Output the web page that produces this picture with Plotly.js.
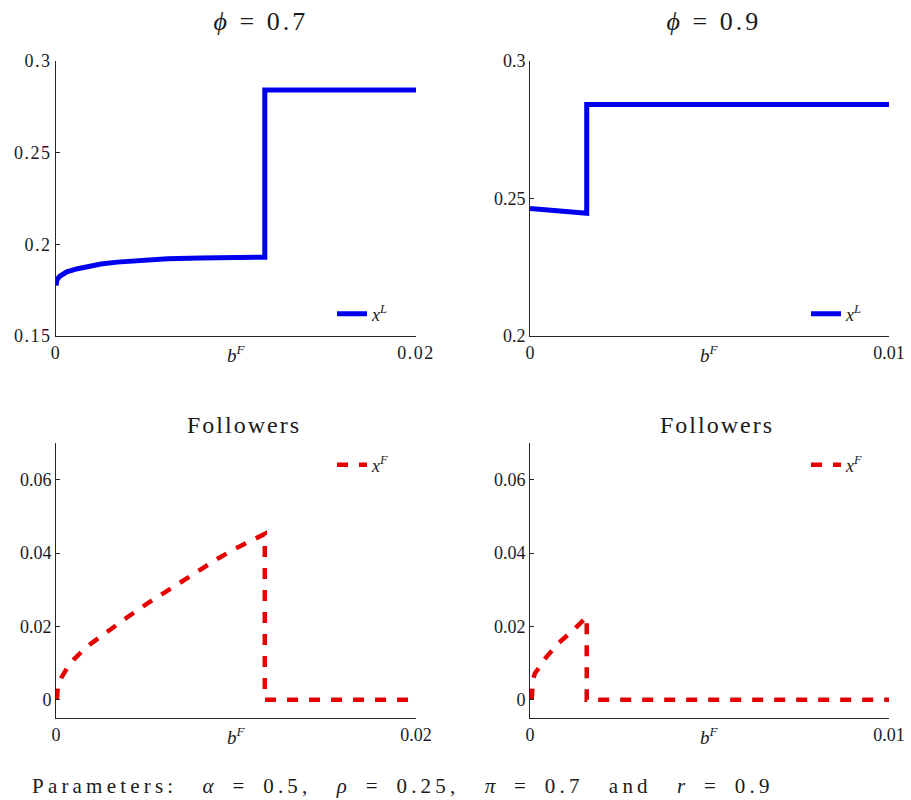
<!DOCTYPE html>
<html>
<head>
<meta charset="utf-8">
<script src="https://cdn.plot.ly/plotly-3.0.1.min.js"></script>
<style>
body { margin: 0; background: #fff; }
.xtick text, .ytick text { letter-spacing: 1.5px; }
.annotation[data-index="4"] text, .annotation[data-index="5"] text { letter-spacing: 3px; }
.annotation[data-index="6"] text, .annotation[data-index="7"] text { letter-spacing: 2px; }
.annotation[data-index="8"] text { letter-spacing: 4.2px; }
</style>
</head>
<body>
<div id="chart" style="width:911px;height:800px;"></div>
<script>
// ---- Data ----
// phi = 0.7, leader
const bF_leader_07 = [0, 0.00005, 0.0002, 0.0006, 0.0012, 0.0017, 0.0025, 0.0034, 0.0048, 0.0062, 0.008, 0.0098, 0.0116, 0.0116, 0.02];
const xL_07        = [0.1775, 0.1805, 0.1825, 0.185, 0.1867, 0.1878, 0.1893, 0.1903, 0.1913, 0.1921, 0.1926, 0.1929, 0.193, 0.2842, 0.2842];
// phi = 0.9, leader
const bF_leader_09 = [0, 0.00158, 0.00158, 0.01];
const xL_09        = [0.2464, 0.2446, 0.2842, 0.2842];
// phi = 0.7, followers
const bF_follow_07 = [0.00005, 0.0001, 0.0003, 0.0006, 0.001, 0.0015, 0.002, 0.003, 0.004, 0.005, 0.006, 0.007, 0.008, 0.009, 0.010, 0.011, 0.0116, 0.0116, 0.02];
const xF_07        = [0, 0.0035, 0.006, 0.0085, 0.011, 0.0135, 0.0155, 0.0192, 0.0226, 0.026, 0.0292, 0.0323, 0.0355, 0.0385, 0.0413, 0.0438, 0.0452, 0, 0];
// phi = 0.9, followers
const bF_follow_09 = [0.00005, 0.00008, 0.00014, 0.00046, 0.00079, 0.00121, 0.00158, 0.00158, 0.01];
const xF_09        = [0, 0.0055, 0.0072, 0.0117, 0.0154, 0.019, 0.0226, 0, 0];

// Tick labels
const xTicks07 = [0, 0.02],  xTickText07 = ['0', '0.02'];
const xTicks09 = [0, 0.01],  xTickText09 = ['0', '0.01'];
const yTicksL07 = [0.15, 0.2, 0.25, 0.3], yTickTextL07 = ['0.15', '0.2', '0.25', '0.3'];
const yTicksL09 = [0.2, 0.25, 0.3],       yTickTextL09 = ['0.2', '0.25', '0.3'];
const yTicksF = [0, 0.02, 0.04, 0.06],    yTickTextF = ['0', '0.02', '0.04', '0.06'];

const panelTitles = ['<i>ϕ</i> = 0.7', '<i>ϕ</i> = 0.9', 'Followers', 'Followers'];
const nameL = '<i>x</i><sup><i>L</i></sup>';
const nameF = '<i>x</i><sup><i>F</i></sup>';
const xLabel = '<i>b</i><sup><i>F</i></sup>';
const footer = 'Parameters:\u2003<i>α</i>\u2002=\u20020.5,\u2003<i>ρ</i>\u2002=\u20020.25,\u2003<i>π</i>\u2002=\u20020.7\u2003and\u2003<i>r</i>\u2002=\u20020.9';

// ---- Styling ----
const FONT = 'Liberation Serif, DejaVu Serif, serif';
const BLUE = '#0000ee';
const RED = '#e60000';
const AX = '#262626';
const W = 911, H = 800;

const traces = [
  {x: bF_leader_07, y: xL_07, xaxis: 'x', yaxis: 'y', name: nameL, legend: 'legend',
   mode: 'lines', line: {color: BLUE, width: 5}},
  {x: bF_leader_09, y: xL_09, xaxis: 'x2', yaxis: 'y2', name: nameL, legend: 'legend2',
   mode: 'lines', line: {color: BLUE, width: 5}},
  {x: bF_follow_07, y: xF_07, xaxis: 'x3', yaxis: 'y3', name: nameF, legend: 'legend3',
   mode: 'lines', line: {color: RED, width: 4.5, dash: '11px,11px'}},
  {x: bF_follow_09, y: xF_09, xaxis: 'x4', yaxis: 'y4', name: nameF, legend: 'legend4',
   mode: 'lines', line: {color: RED, width: 4.5, dash: '11px,11px'}}
];

const xL = [56 / W, 416 / W], xR = [530 / W, 889 / W];
const yT = [1 - 336 / H, 1 - 61 / H], yB = [1 - 718 / H, 1 - 443 / H];

function ax(domain, range, tv, tt, anchor) {
  return {domain: domain, range: range, tickvals: tv, ticktext: tt, anchor: anchor,
    showline: true, linecolor: AX, linewidth: 1, ticks: 'inside', ticklen: 4, tickcolor: AX,
    showgrid: false, zeroline: false, tickfont: {family: FONT, size: 18, color: '#1a1a1a'},
    fixedrange: true};
}
function leg(xpx, ypx) {
  return {x: xpx / W, y: 1 - ypx / H, xanchor: 'left', yanchor: 'middle',
    bgcolor: 'rgba(0,0,0,0)', borderwidth: 0, font: {family: FONT, size: 18, color: '#1a1a1a'}};
}

const ann = [];
// panel axis labels (0-3)
[['x', 'y'], ['x2', 'y2'], ['x3', 'y3'], ['x4', 'y4']].forEach(function (p) {
  ann.push({text: xLabel, xref: p[0] + ' domain', yref: p[1] + ' domain', x: 0.5, y: 0,
    xanchor: 'center', yanchor: 'top', yshift: -4, showarrow: false,
    font: {family: FONT, size: 19, color: '#1a1a1a'}});
});
// panel titles (4-7)
const titlePos = [[261, 22, 26], [714, 22, 26], [244, 425, 24], [717, 425, 24]];
panelTitles.forEach(function (t, i) {
  ann.push({text: t, xref: 'paper', yref: 'paper', x: titlePos[i][0] / W, y: 1 - titlePos[i][1] / H,
    xanchor: 'center', yanchor: 'middle', showarrow: false,
    font: {family: FONT, size: titlePos[i][2], color: '#1a1a1a'}});
});
// footer (8)
ann.push({text: footer, xref: 'paper', yref: 'paper', x: 403 / W, y: 1 - 786 / H,
  xanchor: 'center', yanchor: 'middle', showarrow: false,
  font: {family: FONT, size: 21, color: '#1a1a1a'}});

const layout = {
  width: W, height: H, margin: {l: 0, r: 0, t: 0, b: 0},
  paper_bgcolor: '#fff', plot_bgcolor: '#fff',
  font: {family: FONT, color: '#1a1a1a'},
  xaxis: ax(xL, [0, 0.02], xTicks07, xTickText07, 'y'),
  yaxis: ax(yT, [0.15, 0.3], yTicksL07, yTickTextL07, 'x'),
  xaxis2: ax(xR, [0, 0.01], xTicks09, xTickText09, 'y2'),
  yaxis2: ax(yT, [0.2, 0.3], yTicksL09, yTickTextL09, 'x2'),
  xaxis3: ax(xL, [0, 0.02], xTicks07, xTickText07, 'y3'),
  yaxis3: ax(yB, [-0.005, 0.07], yTicksF, yTickTextF, 'x3'),
  xaxis4: ax(xR, [0, 0.01], xTicks09, xTickText09, 'y4'),
  yaxis4: ax(yB, [-0.005, 0.07], yTicksF, yTickTextF, 'x4'),
  legend: leg(332, 314),
  legend2: leg(806, 314),
  legend3: leg(332, 465),
  legend4: leg(806, 465),
  annotations: ann,
  showlegend: true
};

Plotly.newPlot('chart', traces, layout, {displayModeBar: false, staticPlot: true});
</script>
</body>
</html>
